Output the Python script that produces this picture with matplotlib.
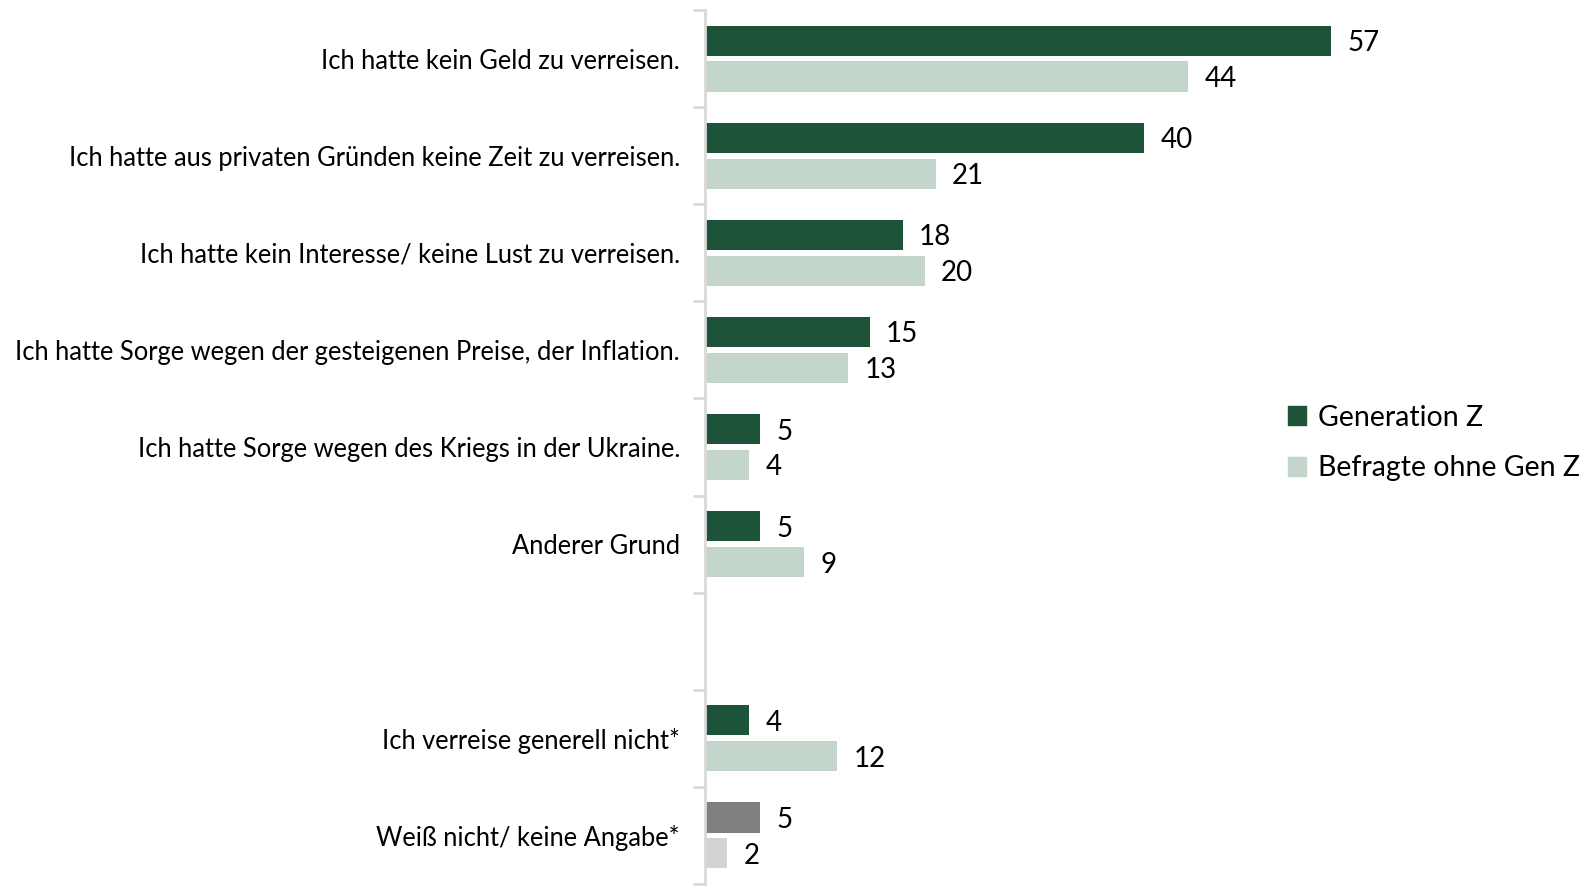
import numpy as np
import matplotlib.pyplot as plt
from matplotlib.patches import Patch

plt.rcParams['font.family'] = ['Lato', 'DejaVu Sans']

categories = [
    'Ich hatte kein Geld zu verreisen.',
    'Ich hatte aus privaten Gründen keine Zeit zu verreisen.',
    'Ich hatte kein Interesse/ keine Lust zu verreisen.',
    'Ich hatte Sorge wegen der gesteigenen Preise, der Inflation.',
    'Ich hatte Sorge wegen des Kriegs in der Ukraine.',
    'Anderer Grund',
    '',
    'Ich verreise generell nicht*',
    'Weiß nicht/ keine Angabe*',
]
gen_z = [57, 40, 18, 15, 5, 5, None, 4, 5]
ohne_gen_z = [44, 21, 20, 13, 4, 9, None, 12, 2]

dark_green = '#1d5339'
light_green = '#c4d5cb'
dark_gray = '#7f7f7f'
light_gray = '#d3d3d3'

W, H = 1591, 894
fig = plt.figure(figsize=(W / 100, H / 100), dpi=100)
ax_left = 705 / W
ax_bottom = (H - 884) / H
ax_height = 874 / H
ax_width = 80 * 10.98 / W
ax = fig.add_axes([ax_left, ax_bottom, ax_width, ax_height])

bar_h = 0.31
off = 0.185
for i, (a, b) in enumerate(zip(gen_z, ohne_gen_z)):
    if a is None:
        continue
    c1, c2 = (dark_gray, light_gray) if i == len(categories) - 1 else (dark_green, light_green)
    ax.barh(i - off, a, height=bar_h, color=c1)
    ax.barh(i + off, b, height=bar_h, color=c2)
    ax.text(a + 1.5, i - off, str(a), va='center_baseline', ha='left', fontsize=20, color='black')
    ax.text(b + 1.5, i + off, str(b), va='center_baseline', ha='left', fontsize=20, color='black')

ax.set_xlim(0, 80)
ax.set_ylim(len(categories) - 0.5, -0.5)
ax.set_yticks(np.arange(len(categories)))
ax.set_yticklabels(categories, fontsize=18.4)
ax.set_yticks(np.arange(len(categories) + 1) - 0.5, minor=True)
ax.tick_params(axis='y', which='major', length=0, pad=18)
ax.tick_params(axis='y', which='minor', length=9, width=2, color='#d9d9d9')
ax.set_xticks([])
for s in ['top', 'right', 'bottom']:
    ax.spines[s].set_visible(False)
ax.spines['left'].set_color('#d9d9d9')
ax.spines['left'].set_linewidth(2)

handles = [Patch(color=dark_green, label='Generation Z'),
           Patch(color=light_green, label='Befragte ohne Gen Z')]
fig.legend(handles=handles, loc='center left', bbox_to_anchor=(1262 / W, 1 - 443 / H),
           frameon=False, fontsize=20.5, handlelength=0.65, handleheight=0.65,
           handletextpad=0.4, labelspacing=0.85)

fig.savefig('out.png', dpi=100)
